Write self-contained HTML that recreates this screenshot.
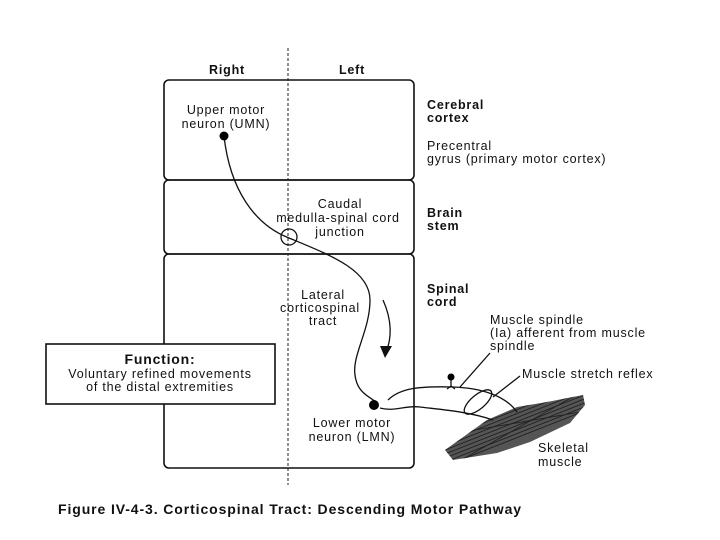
<!DOCTYPE html>
<html><head><meta charset="utf-8"><style>
html,body{margin:0;padding:0;background:#fff;}
svg{display:block;}
text{font-family:"Liberation Sans",Arial,sans-serif;font-size:12.5px;letter-spacing:0.8px;fill:#111;}
.b{font-weight:bold;}
</style></head><body>
<svg width="720" height="540" viewBox="0 0 720 540">
<defs><clipPath id="m"><polygon points="445,450 487,420 517,407 547,402 583,395 585,405 570,423 530,442 497,453 453,460"/></clipPath></defs>
<g fill="none" stroke="#111" stroke-width="1.6">
<rect x="164" y="80" width="250" height="100" rx="5"/>
<rect x="164" y="180" width="250" height="74" rx="5"/>
<rect x="164" y="254" width="250" height="214" rx="5"/>
</g>
<line x1="288" y1="48" x2="288" y2="485" stroke="#222" stroke-width="1" stroke-dasharray="3,2"/>
<rect x="46" y="344" width="229" height="60" fill="#fff" stroke="#111" stroke-width="1.6"/>
<text x="160" y="364" text-anchor="middle" class="b" style="font-size:14px">Function:</text>
<text x="160" y="378" text-anchor="middle">Voluntary refined movements</text>
<text x="160" y="391" text-anchor="middle">of the distal extremities</text>

<text x="227" y="74" text-anchor="middle" class="b">Right</text>
<text x="352" y="74" text-anchor="middle" class="b">Left</text>
<text x="226" y="114" text-anchor="middle">Upper motor</text>
<text x="226" y="128" text-anchor="middle">neuron (UMN)</text>
<text x="340" y="208" text-anchor="middle">Caudal</text>
<text x="338" y="222" text-anchor="middle">medulla-spinal cord</text>
<text x="340" y="236" text-anchor="middle">junction</text>
<text x="323" y="299" text-anchor="middle">Lateral</text>
<text x="320" y="312" text-anchor="middle">corticospinal</text>
<text x="323" y="325" text-anchor="middle">tract</text>
<text x="352" y="427" text-anchor="middle">Lower motor</text>
<text x="352" y="441" text-anchor="middle">neuron (LMN)</text>

<text x="427" y="109" class="b">Cerebral</text>
<text x="427" y="122" class="b">cortex</text>
<text x="427" y="150">Precentral</text>
<text x="427" y="163">gyrus (primary motor cortex)</text>
<text x="427" y="217" class="b">Brain</text>
<text x="427" y="230" class="b">stem</text>
<text x="427" y="293" class="b">Spinal</text>
<text x="427" y="306" class="b">cord</text>
<text x="490" y="324">Muscle spindle</text>
<text x="490" y="337">(Ia) afferent from muscle</text>
<text x="490" y="350">spindle</text>
<text x="522" y="378">Muscle stretch reflex</text>
<text x="538" y="452">Skeletal</text>
<text x="538" y="466">muscle</text>
<text x="58" y="514" class="b" style="font-size:14px;letter-spacing:0.9px">Figure IV-4-3. Corticospinal Tract: Descending Motor Pathway</text>

<!-- muscle -->
<polygon points="445,450 487,420 517,407 547,402 583,395 585,405 570,423 530,442 497,453 453,460" fill="#555"/>
<g stroke="#222" stroke-width="0.9" clip-path="url(#m)">
<line x1="440" y1="448" x2="592" y2="388"/><line x1="440" y1="452" x2="592" y2="392"/>
<line x1="440" y1="456" x2="592" y2="396"/><line x1="440" y1="460" x2="592" y2="400"/>
<line x1="440" y1="464" x2="592" y2="404"/><line x1="440" y1="444" x2="592" y2="384"/>
<line x1="440" y1="468" x2="592" y2="408"/><line x1="440" y1="440" x2="592" y2="380"/>
<line x1="440" y1="436" x2="592" y2="410"/><line x1="440" y1="472" x2="592" y2="386"/>
</g>
<g fill="none" stroke="#111" stroke-width="1.3">
<path d="M224,136 C230,190 255,225 289,238 C330,255 370,270 370,300 C370,330 352,355 355,375 C357,392 368,396 376,402"/>
<circle cx="289" cy="237" r="8"/>
<path d="M383,300 C392,320 392,338 386,352"/>
<path d="M388,400 C400,388 420,386 453,387 C480,388 505,395 517,412"/>
<path d="M380,408 C395,412 405,405 420,407 C445,410 470,412 493,420"/>
<path d="M451,377 L451,386 M447,389 L451,386 L455,389"/>
<path d="M460,387 L490,353"/>
<path d="M493,397 L520,376"/>
<ellipse cx="478" cy="402" rx="17" ry="7" transform="rotate(-40 478 402)"/>
</g>
<polygon points="380,346 392,346 385,358" fill="#111"/>
<circle cx="224" cy="136" r="4.5" fill="#000"/>
<circle cx="374" cy="405" r="5" fill="#000"/>
<circle cx="451" cy="377" r="3.5" fill="#000"/>
</svg>
</body></html>
